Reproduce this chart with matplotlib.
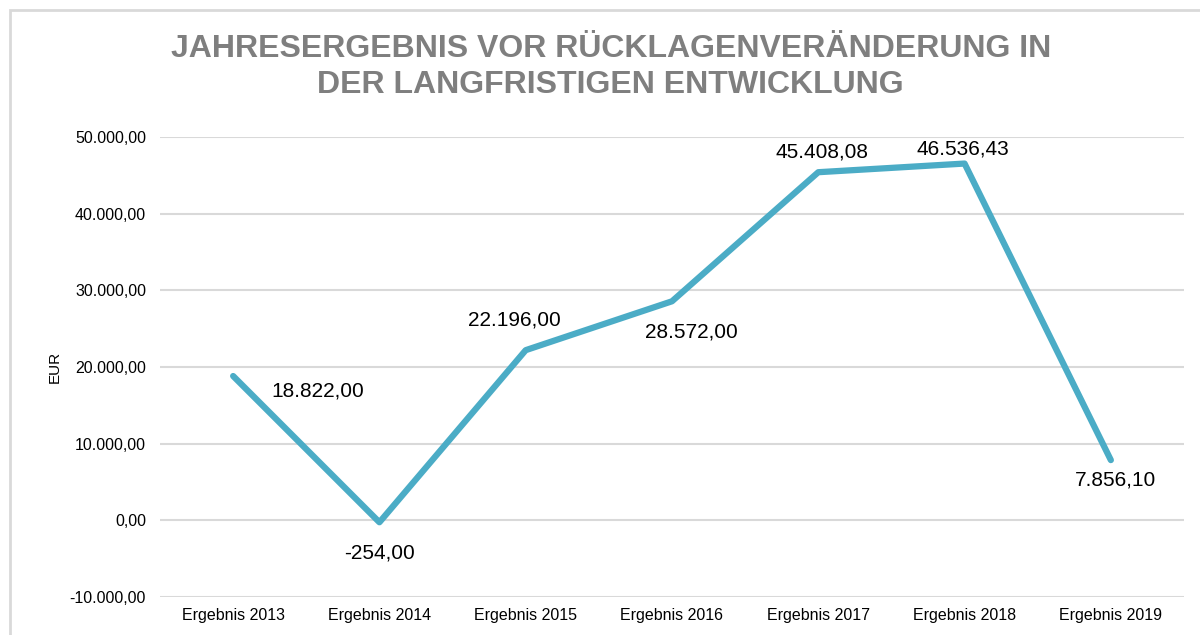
import numpy as np
import matplotlib.pyplot as plt
from matplotlib.patches import Rectangle

plt.rcParams['font.family'] = ['Liberation Sans', 'DejaVu Sans']

categories = ['Ergebnis 2013', 'Ergebnis 2014', 'Ergebnis 2015', 'Ergebnis 2016',
              'Ergebnis 2017', 'Ergebnis 2018', 'Ergebnis 2019']
values = [18822.00, -254.00, 22196.00, 28572.00, 45408.08, 46536.43, 7856.10]
value_labels = ['18.822,00', '-254,00', '22.196,00', '28.572,00',
                '45.408,08', '46.536,43', '7.856,10']
yticks = [-10000, 0, 10000, 20000, 30000, 40000, 50000]
ytick_labels = ['-10.000,00', '0,00', '10.000,00', '20.000,00',
                '30.000,00', '40.000,00', '50.000,00']

# label offsets in pixels (manual placement like in the excel chart)
offsets = [(38, -15, 'left'), (0, -31, 'center'), (-11, 30, 'center'),
           (19, -31, 'center'), (4, 20, 'center'), (-2, 15, 'center'),
           (5, -20, 'center')]

fig = plt.figure(figsize=(12, 6.35), dpi=100)
ax = fig.add_axes([160/1200, 1 - 597/635, 1024/1200, 460/635])

# chart border
fig.patches.append(Rectangle((10/1200, -0.1), 1.2, 1 - 10/635 + 0.1,
                             transform=fig.transFigure, fill=False,
                             edgecolor='#D9D9D9', lw=2))

x = np.arange(len(categories))
ax.plot(x, values, color='#4BACC6', lw=4.5, solid_capstyle='round',
        solid_joinstyle='round', zorder=3)

for xi, v, lab, (dx, dy, ha) in zip(x, values, value_labels, offsets):
    ax.annotate(lab, (xi, v), xytext=(dx, dy), textcoords='offset pixels',
                ha=ha, va='center', fontsize=15, color='black')

ax.set_xlim(-0.5, len(categories) - 0.5)
ax.set_ylim(-10000, 50000)
ax.set_yticks(yticks)
ax.set_yticklabels(ytick_labels)
ax.set_xticks(x)
ax.set_xticklabels(categories)
ax.tick_params(axis='both', length=0, labelsize=11.5, colors='black')
ax.tick_params(axis='y', pad=10)
ax.tick_params(axis='x', pad=8)
ax.grid(axis='y', color='#D9D9D9', lw=1.5)
ax.set_axisbelow(True)
for s in ax.spines.values():
    s.set_visible(False)

ax.set_ylabel('EUR', fontsize=11, labelpad=6)

fig.text(0.509, 1 - 49/635, 'JAHRESERGEBNIS VOR RÜCKLAGENVERÄNDERUNG IN',
         ha='center', va='center', fontsize=23, fontweight='bold', color='#7F7F7F')
fig.text(0.509, 1 - 85/635, 'DER LANGFRISTIGEN ENTWICKLUNG',
         ha='center', va='center', fontsize=23, fontweight='bold', color='#7F7F7F')

plt.savefig('out.png', dpi=100)
